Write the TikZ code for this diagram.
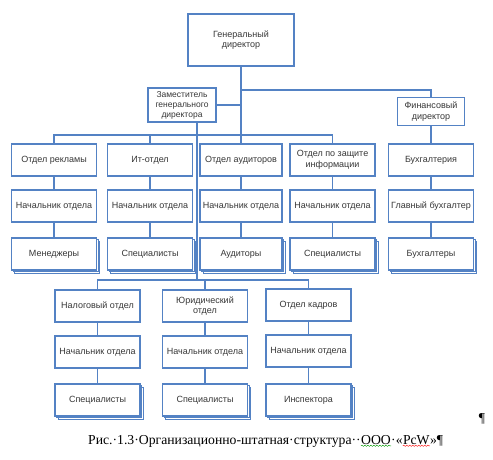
\documentclass[tikz,border=0pt]{standalone}
\usepackage{fontspec}
\setmainfont{Liberation Serif}
\setsansfont{Liberation Sans}
\usetikzlibrary{positioning,shadows,decorations.pathmorphing}
\definecolor{boxblue}{RGB}{84,130,196}
\definecolor{textgray}{RGB}{55,55,55}
\tikzset{
    unit/.style={
        draw=boxblue,
        fill=white,
        line width=1.2pt,
        text=textgray,
        align=center,
        minimum width=85pt,
        minimum height=32pt,
        inner sep=1pt,
        font=\sffamily\fontsize{9}{10.5}\selectfont
    },
    staff/.style={
        unit,
        double copy shadow={shadow xshift=1.6pt, shadow yshift=-1.6pt,
          draw=boxblue, fill=white, line width=0.9pt}
    },
    link/.style={draw=boxblue, line width=1.1pt},
    caption/.style={inner sep=0pt, font=\fontsize{13.7}{15}\selectfont}
}

\begin{document}
\begin{tikzpicture}[x=1pt, y=-1pt]
  \useasboundingbox (0,0) rectangle (493,460);

  % Top management
  \node[unit, minimum width=106pt, minimum height=52pt] (gd) at (241,40) {Генеральный\\директор};
  \node[unit, minimum width=68pt, minimum height=34pt, inner sep=0pt,
        font=\sffamily\fontsize{8.5}{10}\selectfont] (zam) at (182,105) {Заместитель\\генерального\\директора};
  \node[unit, minimum width=67pt, minimum height=28pt] (fin) at (431,111.5) {Финансовый\\директор};

  % Departments, first level
  \node[unit] (adv) at (54,160) {Отдел рекламы};
  \node[unit] (it) at (150,160) {Ит-отдел};
  \node[unit, minimum width=82pt] (aud) at (241,160) {Отдел аудиторов};
  \node[unit] (sec) at (332.5,160) {Отдел по защите\\информации};
  \node[unit] (acc) at (431,160) {Бухгалтерия};

  \node[unit] (advh) at (54,206) {Начальник отдела};
  \node[unit] (ith) at (150,206) {Начальник отдела};
  \node[unit, minimum width=82pt] (audh) at (241,206) {Начальник отдела};
  \node[unit] (sech) at (332.5,206) {Начальник отдела};
  \node[unit] (acch) at (431,206) {Главный бухгалтер};

  \node[staff] (advs) at (54,254) {Менеджеры};
  \node[staff] (its) at (150,254) {Специалисты};
  \node[staff, minimum width=82pt] (auds) at (241,254) {Аудиторы};
  \node[staff] (secs) at (332.5,254) {Специалисты};
  \node[staff] (accs) at (431,254) {Бухгалтеры};

  % Departments, second level
  \node[unit] (tax) at (97.5,306) {Налоговый отдел};
  \node[unit] (law) at (205,306) {Юридический\\отдел};
  \node[unit] (hr) at (308.5,305) {Отдел кадров};

  \node[unit] (taxh) at (97.5,352) {Начальник отдела};
  \node[unit] (lawh) at (205,352) {Начальник отдела};
  \node[unit] (hrh) at (308.5,351) {Начальник отдела};

  \node[staff] (taxs) at (97.5,400) {Специалисты};
  \node[staff] (laws) at (205,400) {Специалисты};
  \node[staff] (hrs) at (308.5,400) {Инспектора};

  % Connectors
  \coordinate (bus) at (0,135);
  \coordinate (finbus) at (0,90);
  \coordinate (lowbus) at (0,280);
  \draw[link] (gd) -- (aud);
  \draw[link] (zam) -- (zam -| gd);
  \draw[link] (gd |- finbus) -- (fin |- finbus) -- (fin);
  \draw[link] (fin) -- (acc);
  \draw[link] (adv) -- (adv |- bus) -- (sec |- bus) -- (sec);
  \draw[link] (it) -- (it |- bus);
  \draw[link] ([xshift=15pt]zam.south) -- ([xshift=15pt]zam.south |- lowbus);
  \draw[link] (tax) -- (tax |- lowbus) -- (hr |- lowbus) -- (hr);
  \draw[link] (law) -- (law |- lowbus);
  \foreach \a/\b/\c in {adv/advh/advs, it/ith/its, aud/audh/auds, sec/sech/secs,
      acc/acch/accs, tax/taxh/taxs, law/lawh/laws, hr/hrh/hrs}
    \draw[link] (\a) -- (\b) -- (\c);

  % Caption
  \node[caption, anchor=base west] (capa) at (88,444) {Рис.·1.3·Организационно-штатная·структура··};
  \node[caption, anchor=base west] (capb) at (capa.base east) {ООО};
  \node[caption, anchor=base west] (capc) at (capb.base east) {·«};
  \node[caption, anchor=base west] (capd) at (capc.base east) {PcW};
  \node[caption, anchor=base west] (cape) at (capd.base east) {»¶};
  \node[caption] (mark) at (482,419) {¶};
  \draw[green!60!black, decorate, decoration={snake, amplitude=0.6pt, segment length=3pt}]
    ([yshift=-1.8pt]capb.base west) -- ([yshift=-1.8pt]capb.base east);
  \draw[red, decorate, decoration={snake, amplitude=0.6pt, segment length=3pt}]
    ([yshift=-1.8pt]capd.base west) -- ([yshift=-1.8pt]capd.base east);
\end{tikzpicture}
\end{document}
